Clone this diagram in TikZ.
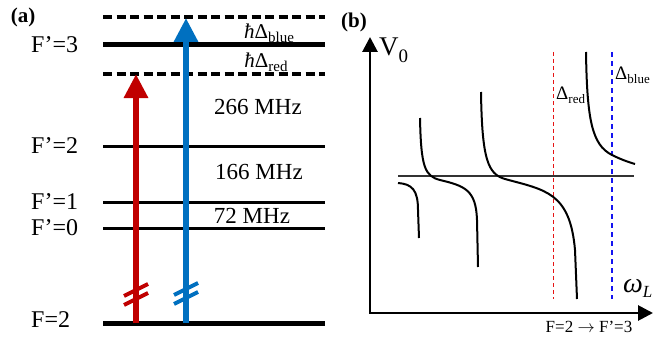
\documentclass[tikz,border=0pt]{standalone}
\usepackage{fontspec}
\setmainfont{Liberation Serif}
\usetikzlibrary{arrows.meta}
\definecolor{myred}{RGB}{192,0,0}
\definecolor{myblue}{RGB}{0,112,192}
\definecolor{dred}{RGB}{230,20,20}
\definecolor{dblue}{RGB}{20,20,240}
\newcommand{\lowsub}[3]{\raisebox{-#1}{\fontsize{#2}{#2}\selectfont #3}}
\begin{document}
\begin{tikzpicture}[x=1pt,y=-1pt,
  level/.style={line width=3pt},
  thicklevel/.style={line width=5pt},
  dlevel/.style={line width=4.5pt,dash pattern=on 9pt off 4.5pt},
  lbl/.style={font=\fontsize{24}{24}\selectfont,anchor=west,inner sep=0pt},
  freq/.style={font=\fontsize{23}{23}\selectfont,inner sep=0pt},
  hlbl/.style={font=\fontsize{21}{21}\selectfont,inner sep=0pt},
  transarrow/.style={line width=6.5pt,-{Triangle[width=23pt,length=24pt]}},
  brk/.style={line width=4pt},
  axis/.style={line width=2.8pt,line join=miter,{Triangle[width=15pt,length=15pt]}-{Triangle[width=15pt,length=15pt]}},
  curve/.style={line width=2pt},
  panel/.style={font=\bfseries\fontsize{21}{21}\selectfont,inner sep=0pt},
]
\useasboundingbox (0,0) rectangle (653,337);
% ---------- panel (a)
\node[panel] (pa) at (23,17) {(a)};
\draw[dlevel] (103,17) -- (325,17);
\draw[thicklevel] (103,45) -- (325,45);
\draw[dlevel] (103,74) -- (325,74);
\draw[level] (103,146) -- (325,146);
\draw[level] (103,202) -- (325,202);
\draw[level] (103,228) -- (325,228);
\draw[thicklevel] (103,323) -- (325,323);
\node[lbl] (l3) at (31,45) {F’=3};
\node[lbl] (l2) at (31,146) {F’=2};
\node[lbl] (l1) at (31,202) {F’=1};
\node[lbl] (l0) at (31,228) {F’=0};
\node[lbl] (g2) at (31,320) {F=2};
\node[hlbl] (hb) at (269,33) {\textit{ħ}Δ\lowsub{4pt}{15}{blue}};
\node[hlbl] (hr) at (266,62) {\textit{ħ}Δ\lowsub{4pt}{15}{red}};
\node[freq] (f266) at (258,107) {266 MHz};
\node[freq] (f166) at (259,172) {166 MHz};
\node[freq] (f72) at (252,216) {72 MHz};
\coordinate (rb) at (136,323);
\coordinate (rt) at (136,74);
\coordinate (bb) at (186,323);
\coordinate (bt) at (186,18);
\draw[transarrow,myred] (rb) -- (rt);
\draw[transarrow,myblue] (bb) -- (bt);
\draw[brk,myred] (124,296) -- (148,284);
\draw[brk,myred] (124,305) -- (148,293);
\draw[brk,myblue] (174,295) -- (198,283);
\draw[brk,myblue] (174,304) -- (198,292);
% ---------- panel (b)
\node[panel] (pb) at (354,22) {(b)};
\coordinate (origin) at (370,313);
\coordinate (ytip) at (370,37);
\coordinate (xtip) at (653,313);
\draw[axis] (ytip) -- (origin) -- (xtip);
\node[font=\fontsize{27}{27}\selectfont,anchor=west,inner sep=0pt] (v0) at (379,50) {V\lowsub{7pt}{19}{0}};
\node[font=\fontsize{28}{28}\selectfont,anchor=west,inner sep=0pt] (wl) at (623,288) {\textit{ω}\lowsub{5pt}{17}{\textit{L}}};
\node[font=\fontsize{17}{17}\selectfont,inner sep=0pt] (tr) at (589,327) {F=2 $\rightarrow$ F’=3};
\draw[line width=1.6pt,black!80] (398,176) -- (634,176);
\draw[dred,line width=1pt,dash pattern=on 4pt off 3pt] (553,52) -- (553,299);
\draw[dblue,line width=2pt,dash pattern=on 5pt off 4pt] (612,52) -- (612,299);
\node[font=\fontsize{19}{19}\selectfont,anchor=west,inner sep=0pt] (dr) at (556,95) {Δ\lowsub{4pt}{13}{red}};
\node[font=\fontsize{19}{19}\selectfont,anchor=west,inner sep=0pt] (db) at (615,75) {Δ\lowsub{4pt}{13}{blue}};
\draw[curve] (398,183) .. controls (412,184) and (418,190) .. (418,210) -- (419,238);
\draw[curve] (420,118) .. controls (421,168) and (425,176) .. (440,180) .. controls (465,186) and (476,190) .. (477,220) -- (478,267);
\draw[curve] (481,92) .. controls (482,160) and (488,174) .. (505,179) .. controls (545,190) and (570,192) .. (575,250) -- (577,299);
\draw[curve] (586,52) .. controls (587,120) and (592,145) .. (612,155) .. controls (620,159) and (628,162) .. (635,164);
\end{tikzpicture}
\end{document}
